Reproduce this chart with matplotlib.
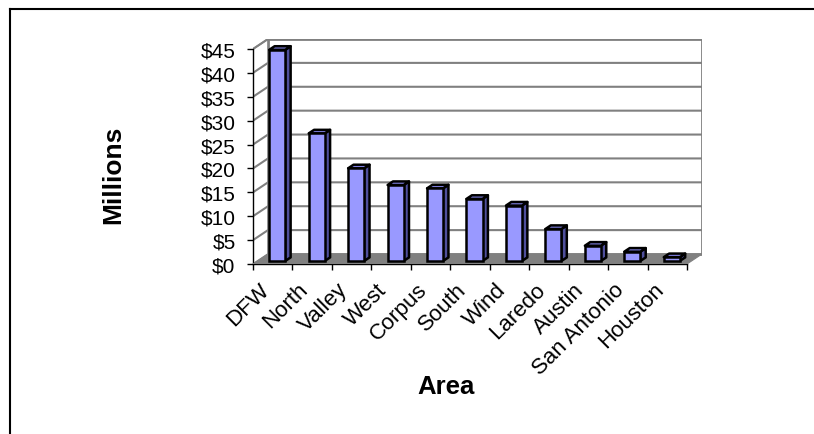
import matplotlib
matplotlib.use("Agg")
import matplotlib.pyplot as plt
from matplotlib.patches import Polygon
from matplotlib.lines import Line2D
from matplotlib.transforms import offset_copy

categories = ["DFW", "North", "Valley", "West", "Corpus", "South", "Wind",
              "Laredo", "Austin", "San Antonio", "Houston"]
values = [44.2, 26.7, 19.4, 15.9, 15.2, 13.0, 11.6, 6.7, 3.2, 1.95, 0.8]
yticks = [0, 5, 10, 15, 20, 25, 30, 35, 40, 45]
ytick_labels = ["$%d" % t for t in yticks]

plt.rcParams['font.family'] = ['Liberation Sans', 'DejaVu Sans']

W, H = 814, 435
fig = plt.figure(figsize=(W / 100, H / 100), dpi=100)

# axes geometry in pixels
x0, x1 = 253, 702
y0, y1 = 265, 40
ax = fig.add_axes([x0 / W, 1 - y0 / H, (x1 - x0) / W, (y0 - y1) / H])

n = len(categories)
ymax = yticks[-1]
px_per_cat = 39.45
px_per_val = (265 - 50) / ymax
DX = 15 / px_per_cat    # depth offset in x data units
DY = 10 / px_per_val    # depth offset in y data units

ax.set_xlim(-0.5, n - 0.5 + DX)
ax.set_ylim(0, ymax + DY)
for s in ['top', 'right']:
    ax.spines[s].set_visible(False)
ax.spines['left'].set_bounds(0, ymax)
ax.spines['bottom'].set_bounds(-0.5, n - 0.5)
for s in ['left', 'bottom']:
    ax.spines[s].set_color('black')
    ax.spines[s].set_linewidth(1.0)
ax.patch.set_visible(False)

wall_col = '#808080'
# back wall
back = Polygon([(-0.5 + DX, DY), (n - 0.5 + DX, DY), (n - 0.5 + DX, ymax + DY),
                (-0.5 + DX, ymax + DY)], closed=True, facecolor='white',
               edgecolor=wall_col, lw=2.0, zorder=1)
ax.add_patch(back)
# side wall
side = Polygon([(-0.5, 0), (-0.5 + DX, DY), (-0.5 + DX, ymax + DY), (-0.5, ymax)],
               closed=True, facecolor='white', edgecolor=wall_col, lw=1.2, zorder=1)
ax.add_patch(side)
# gridlines
for t in yticks[1:]:
    ax.plot([-0.5, -0.5 + DX, n - 0.5 + DX], [t, t + DY, t + DY], color=wall_col,
            lw=1.5, zorder=2, solid_capstyle='butt')
# floor
floor = Polygon([(-0.5, 0), (n - 0.5, 0), (n - 0.5 + DX, DY), (-0.5 + DX, DY)],
                closed=True, facecolor='#808080', edgecolor='#808080', lw=0.8, zorder=3)
ax.add_patch(floor)

# bars
f0, f1 = 0.30, 0.66
bw = 16 / px_per_cat
front_col = '#9999FF'
top_col = '#7F7FE0'
side_col = '#4F4F9C'
for i, v in enumerate(values):
    xc = i + f0 * DX
    b = f0 * DY
    ax.bar(xc, v, bottom=b, width=bw, color=front_col, edgecolor='black',
           linewidth=1.8, zorder=5)
    dx = (f1 - f0) * DX
    dy = (f1 - f0) * DY
    xl, xr = xc - bw / 2, xc + bw / 2
    ax.add_patch(Polygon([(xr, b), (xr + dx, b + dy), (xr + dx, b + v + dy), (xr, b + v)],
                         closed=True, facecolor=side_col, edgecolor='black', lw=1.8,
                         zorder=4, joinstyle='round'))
    ax.add_patch(Polygon([(xl, b + v), (xr, b + v), (xr + dx, b + v + dy), (xl + dx, b + v + dy)],
                         closed=True, facecolor=top_col, edgecolor='black', lw=1.8,
                         zorder=4, joinstyle='round'))

# ticks
ax.set_yticks(yticks)
ax.set_yticklabels(ytick_labels, fontsize=15)
ax.tick_params(axis='y', direction='out', length=4, width=1, pad=8.5, color='black')
ax.set_xticks([i - 0.5 for i in range(n + 1)])
ax.set_xticklabels([])
ax.tick_params(axis='x', direction='out', length=4.5, width=1, color='black')

for i, c in enumerate(categories):
    tr = offset_copy(ax.transData, fig=fig, x=-7, y=-22, units='dots')
    ax.text(i, 0, c, transform=tr, rotation=45, ha='right', va='center',
            rotation_mode='anchor', fontsize=16)

fig.text(113 / W, 1 - 175 / H, "Millions", rotation=90, ha='center', va='center',
         fontsize=19, fontweight='bold')
fig.text(446 / W, 1 - 387 / H, "Area", ha='center', va='center',
         fontsize=18.5, fontweight='bold')

# outer border (top and left edges visible)
fig.add_artist(Line2D([10 / W, 1.0], [1 - 10 / H, 1 - 10 / H], color='black', lw=1.5,
                      transform=fig.transFigure))
fig.add_artist(Line2D([10 / W, 10 / W], [0.0, 1 - 10 / H], color='black', lw=1.5,
                      transform=fig.transFigure))

fig.savefig("out.png", dpi=100)
